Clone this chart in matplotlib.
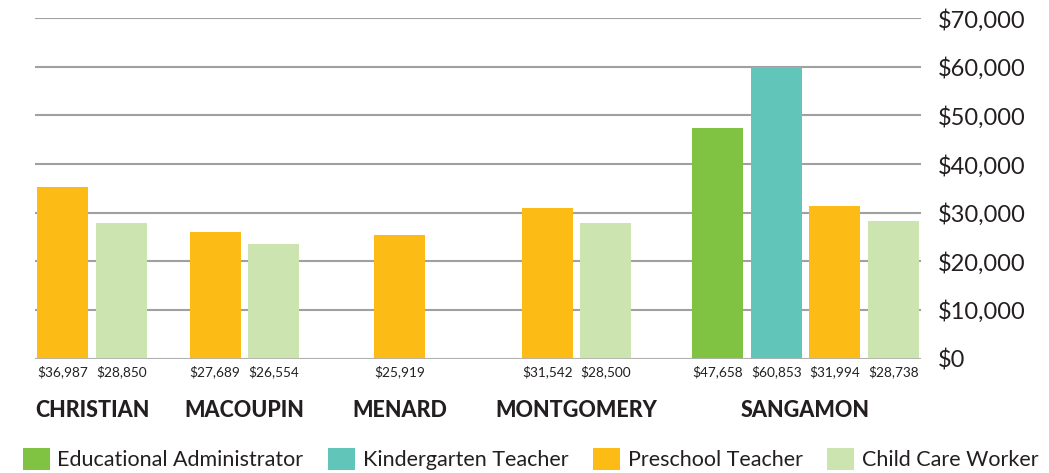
import matplotlib
matplotlib.use("Agg")
import matplotlib.pyplot as plt
from matplotlib.patches import Patch
from matplotlib.ticker import FuncFormatter

# ---- data ----
counties = ["CHRISTIAN", "MACOUPIN", "MENARD", "MONTGOMERY", "SANGAMON"]
occupations = ["Educational Administrator", "Kindergarten Teacher",
               "Preschool Teacher", "Child Care Worker"]
# bar heights as drawn in the chart (None = no bar)
ed_admin = [None, None, None, None, 47430]
kinder = [None, None, None, None, 59980]
preschool = [35290, 26030, 25410, 30970, 31380]
child_care = [27880, 23560, None, 27880, 28290]
# printed value labels under bars
ed_admin_lbl = [None, None, None, None, "$47,658"]
kinder_lbl = [None, None, None, None, "$60,853"]
preschool_lbl = ["$36,987", "$27,689", "$25,919", "$31,542", "$31,994"]
child_care_lbl = ["$28,850", "$26,554", None, "$28,500", "$28,738"]
y_ticks = [0, 10000, 20000, 30000, 40000, 50000, 60000, 70000]

# ---- style ----
colors = ["#80c241", "#62c5b9", "#fcbb15", "#cce4b0"]
FONT = "Lato"
TXT = "#231f20"

W, H = 1049, 473
fig = plt.figure(figsize=(W / 100, H / 100), dpi=100)
ax = fig.add_axes([35 / W, 1 - 358.5 / H, 886 / W, (358.5 - 18.3) / H])

# layout (slot units)
pitch_px = 58.6
group_centers = [0.973, 3.575, 6.22, 9.24, 13.15]
bar_w = 51 / pitch_px

series = [ed_admin, kinder, preschool, child_care]
labels = [ed_admin_lbl, kinder_lbl, preschool_lbl, child_care_lbl]

for gi, gc in enumerate(group_centers):
    present = [si for si in range(4) if series[si][gi] is not None]
    n = len(present)
    for k, si in enumerate(present):
        x = gc + (k - (n - 1) / 2)
        ax.bar(x, series[si][gi], width=bar_w, color=colors[si], zorder=3,
               linewidth=0)
        ax.annotate(labels[si][gi], xy=(x, 0), xytext=(0, -5),
                    textcoords="offset points", ha="center", va="top",
                    fontsize=9.8, family=FONT, color=TXT)
    ax.annotate(counties[gi], xy=(gc, 0), xytext=(0, -30),
                textcoords="offset points", ha="center", va="top",
                fontsize=15.5, family=FONT, weight="black", color=TXT)

ax.set_xlim(0, 886 / pitch_px)
ax.set_ylim(0, 70000)
ax.set_yticks(y_ticks)
ax.yaxis.tick_right()
ax.yaxis.set_major_formatter(FuncFormatter(lambda v, p: f"${v:,.0f}"))
ax.tick_params(axis="y", length=0, pad=12, labelsize=17, labelcolor=TXT)
for lbl in ax.get_yticklabels():
    lbl.set_family(FONT)
ax.set_xticks([])
ax.grid(axis="y", color="#a0a0a0", linewidth=1.5, zorder=0)
for s in ax.spines.values():
    s.set_visible(False)
ax.axhline(0, color="#b3b3b3", linewidth=2, zorder=4)

handles = [Patch(facecolor=c, edgecolor="none") for c in colors]
fig.legend(handles, occupations, loc="center left",
           bbox_to_anchor=(23 / W, 1 - 459 / H), ncol=4, frameon=False,
           borderpad=0, borderaxespad=0, handlelength=1.25, handleheight=1.25,
           handletextpad=0.35, columnspacing=1.15,
           prop={"family": FONT, "size": 15.5})
for t in fig.legends[0].get_texts():
    t.set_color(TXT)

fig.savefig("out.png", dpi=100, facecolor="white")
